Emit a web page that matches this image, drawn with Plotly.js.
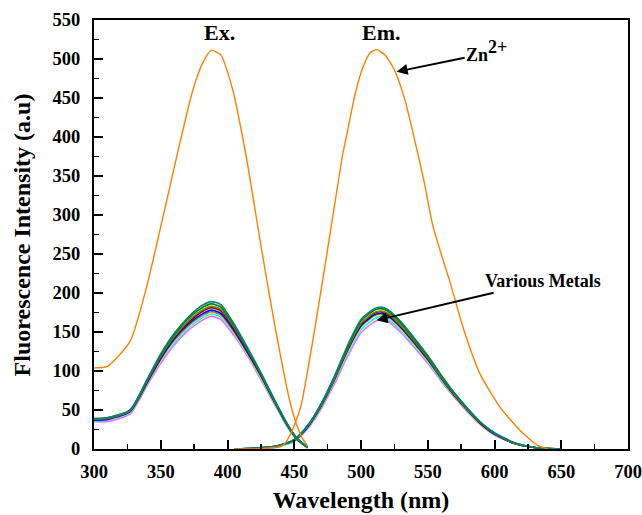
<!DOCTYPE html>
<html>
<head>
<meta charset="utf-8">
<script src="https://cdn.plot.ly/plotly-3.0.1.min.js"></script>
<style>html,body{margin:0;padding:0;background:#fff;}#chart{width:642px;height:515px;}</style>
</head>
<body>
<div id="chart"></div>
<script>
// Wavelength grids (nm)
const exWavelengths = [300,310,327,340,350,360,370,380,388,395,405,415,425,435,445,452,460];
const emWavelengths = [405,420,435,450,460,470,480,490,500,510,515,520,530,540,550,560,570,580,590,600,615,630,650];

// Zn2+ curves (orange)
const znExWavelengths = [300,310,327,339,350,356,364,374,382,388,395,404,414,426,436,447,452,456,460];
const znExValues      = [104,106,138,205,285,330,390,460,497,511,505,460,375,251,153,59,30,14,4];
const znEmWavelengths = [405,420,430,440,445,450,455,464,474,486,489,496,502,507,512,518,525,533,539,547,554,567,577,589,604,619,632,640];
const znEmValues      = [0,0,1,3,12,30,55,140,245,375,400,458,492,508,512,505,486,447,405,345,285,212,153,97,54,24,5,0];

// Various metals
const metalColors = ["#008080","#008000","#808000","#800000","#0000FF","#808080","#FFFF00","#00FFFF","#FF66FF"];
const metalEx = [
  [39,40,50,90,122,148,168,183,189,185,160,130,98,64,32,14,2],
  [39,40,50,89,121,146,166,180,186,182,158,128,97,63,31,14,2],
  [38,39,49,88,119,144,163,177,183,179,156,127,96,62,31,13,2],
  [38,39,49,87,118,143,161,175,181,177,154,126,95,62,30,13,2],
  [37,38,48,86,116,141,159,172,178,174,152,124,94,61,30,13,2],
  [37,38,48,85,115,139,157,170,176,172,150,123,93,60,29,12,2],
  [37,38,48,85,114,138,156,169,175,171,149,122,92,60,29,12,2],
  [36,37,47,84,113,136,154,167,173,169,148,121,91,59,28,12,1],
  [35,35,45,82,110,133,151,164,170,166,145,119,89,58,28,12,1]
];
const metalEm = [
  [0,1,3,12,30,58,93,133,166,180,182,179,163,142,120,95,72,52,34,21,8,2,0],
  [0,1,3,12,30,57,92,131,164,178,180,177,161,140,119,94,71,51,33,20,8,2,0],
  [0,1,3,11,29,56,90,129,161,175,177,174,158,138,117,92,70,50,33,20,7,2,0],
  [0,1,3,11,29,56,90,128,160,174,176,173,157,137,116,92,69,50,32,20,7,2,0],
  [0,1,3,11,28,55,89,127,158,172,174,171,156,136,115,91,69,49,32,19,7,2,0],
  [0,1,3,11,28,54,88,126,157,171,173,170,155,135,114,90,68,49,32,19,7,2,0],
  [0,1,3,11,28,54,88,125,156,170,172,169,154,134,113,90,68,48,31,19,7,2,0],
  [0,1,2,10,27,53,86,123,153,167,170,167,152,132,112,88,67,48,31,19,7,2,0],
  [0,1,2,10,26,51,83,119,149,163,166,164,149,130,110,87,66,47,30,18,7,2,0]
];

const xTickVals = [300,350,400,450,500,550,600,650,700];
const yTickVals = [0,50,100,150,200,250,300,350,400,450,500,550];

const traces = [];
for (let i = metalEx.length - 1; i >= 0; i--) {
  traces.push({x: exWavelengths, y: metalEx[i], mode: 'lines', line: {color: metalColors[i], width: 1.6, shape: 'spline', smoothing: 0.6}, hoverinfo: 'skip'});
  traces.push({x: emWavelengths, y: metalEm[i], mode: 'lines', line: {color: metalColors[i], width: 1.6, shape: 'spline', smoothing: 0.6}, hoverinfo: 'skip'});
}
traces.push({x: znExWavelengths, y: znExValues, mode: 'lines', line: {color: '#FF7F00', width: 1.4, shape: 'spline', smoothing: 0.6}});
traces.push({x: znEmWavelengths, y: znEmValues, mode: 'lines', line: {color: '#FF7F00', width: 1.4, shape: 'spline', smoothing: 0.6}});

const FAM = 'Liberation Serif, Times New Roman, serif';
const bold = (size) => ({family: FAM, size: size, weight: 'bold', color: '#000'});
const axisCommon = {
  showgrid: false, zeroline: false, showline: true, linecolor: '#000', linewidth: 2, mirror: true,
  ticks: 'inside', ticklen: 9, tickwidth: 2, tickcolor: '#000',
  tickfont: bold(18.5),
  minor: {ticks: 'inside', ticklen: 5, tickwidth: 1.5, tickcolor: '#000', dtick: 25}
};

const layout = {
  width: 642, height: 515,
  margin: {l: 94, r: 14, t: 20, b: 66},
  showlegend: false,
  paper_bgcolor: '#fff', plot_bgcolor: '#fff',
  font: {family: FAM, color: '#000'},
  xaxis: Object.assign({}, axisCommon, {
    range: [300, 700], tickvals: xTickVals, ticklabelstandoff: 5,
    title: {text: 'Wavelength (nm)', font: bold(24), standoff: 10}
  }),
  yaxis: Object.assign({}, axisCommon, {
    range: [0, 550], tickvals: yTickVals, ticklabelstandoff: 8,
    title: {text: ''}
  }),
  annotations: [
    {xref: 'paper', yref: 'paper', x: -0.135, y: 0.5, xanchor: 'center', yanchor: 'middle', textangle: -90,
     text: 'Fluorescence Intensity (a.u)', showarrow: false, font: bold(24)},
    {x: 394, y: 534, text: 'Ex.', showarrow: false, font: bold(22), yanchor: 'middle'},
    {x: 515, y: 534, text: 'Em.', showarrow: false, font: bold(22), yanchor: 'middle'},
    {x: 526.7, y: 483.7, ax: 587, ay: 505, axref: 'x', ayref: 'y', text: 'Zn', showarrow: true,
     arrowhead: 2, arrowsize: 1.1, arrowwidth: 2, arrowcolor: '#000', font: bold(18)},
    {x: 602.5, y: 516, text: '2+', showarrow: false, font: bold(18)},
    {x: 511.7, y: 165, ax: 636, ay: 215, axref: 'x', ayref: 'y', text: 'Various Metals', showarrow: true,
     arrowhead: 2, arrowsize: 1.1, arrowwidth: 2, arrowcolor: '#000', font: bold(18)}
  ]
};

Plotly.newPlot('chart', traces, layout, {displayModeBar: false, staticPlot: true});
</script>
</body>
</html>
